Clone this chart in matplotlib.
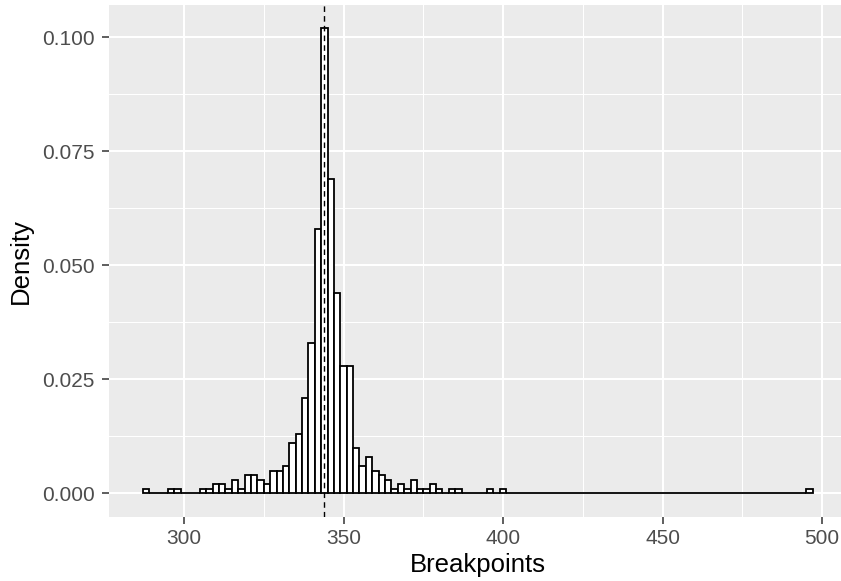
import numpy as np
import matplotlib.pyplot as plt

# Histogram of breakpoint positions (binwidth 2, density scale)
bin_width = 2
first_edge = 287
last_edge = 497

# left edges of the non-empty bins and their densities
bin_left = [287, 295, 297, 305, 307, 309, 311, 313, 315, 317, 319, 321, 323, 325, 327, 329,
            331, 333, 335, 337, 339, 341, 343, 345, 347, 349, 351, 353,
            355, 357, 359, 361, 363, 365, 367, 369, 371, 373, 375, 377, 379, 383, 385,
            395, 399, 495]
bin_density = [0.001, 0.001, 0.001, 0.001, 0.001, 0.002, 0.002, 0.001, 0.003, 0.001,
               0.004, 0.004, 0.003, 0.002, 0.005, 0.005,
               0.006, 0.011, 0.013, 0.021, 0.033, 0.058, 0.102, 0.069, 0.044, 0.028, 0.028, 0.010,
               0.006, 0.008, 0.005, 0.004, 0.003, 0.001, 0.002, 0.001, 0.003, 0.001, 0.001,
               0.002, 0.001, 0.001, 0.001,
               0.001, 0.001, 0.001]
mean_breakpoint = 344.0

x_ticks = [300, 350, 400, 450, 500]
x_minor = [325, 375, 425, 475]
y_ticks = [0.000, 0.025, 0.050, 0.075, 0.100]
y_minor = [0.0125, 0.0375, 0.0625, 0.0875]

# fill empty bins so they draw as flat outlines along zero
lefts = np.arange(first_edge, last_edge, bin_width)
heights = np.zeros(len(lefts))
for left, d in zip(bin_left, bin_density):
    heights[(left - first_edge) // bin_width] = d

plt.rcParams['font.family'] = ['Liberation Sans', 'DejaVu Sans']

fig = plt.figure(figsize=(8.41, 5.81), dpi=100)
W, H = 841, 581
ax = fig.add_axes([109 / W, 1 - 516.7 / H, 737 / W, (516.7 - 5) / H])

ax.set_facecolor('#EBEBEB')
for s in ax.spines.values():
    s.set_visible(False)

ax.set_xticks(x_ticks)
ax.set_xticks(x_minor, minor=True)
ax.set_yticks(y_ticks)
ax.set_yticks(y_minor, minor=True)
ax.set_yticklabels([f'{v:.3f}' for v in y_ticks])

# ggplot-like expansion of 5% on both axes
xr = last_edge - first_edge
ax.set_xlim(first_edge - 0.05 * xr, last_edge + 0.05 * xr)
ymax = max(bin_density)
ax.set_ylim(-0.05 * ymax, ymax * 1.05)

ax.grid(which='major', color='white', linewidth=1.5)
ax.grid(which='minor', color='white', linewidth=0.75)
ax.set_axisbelow(True)

ax.tick_params(which='major', length=5.3, width=1.1, color='#333333',
               labelsize=15, labelcolor='#4D4D4D')
ax.tick_params(axis='y', pad=5)
ax.tick_params(axis='x', pad=3.5)
ax.tick_params(which='minor', length=0)

ax.bar(lefts, heights, width=bin_width, align='edge',
       facecolor='white', edgecolor='black', linewidth=1.3, zorder=2)
ax.axvline(mean_breakpoint, color='black', linestyle=(0, (4, 3)), linewidth=1.0, zorder=3)

ax.set_xlabel('Breakpoints', fontsize=18.5, labelpad=4)
ax.set_ylabel('Density', fontsize=18.5, labelpad=6.5)

fig.savefig('out.png', dpi=100)
